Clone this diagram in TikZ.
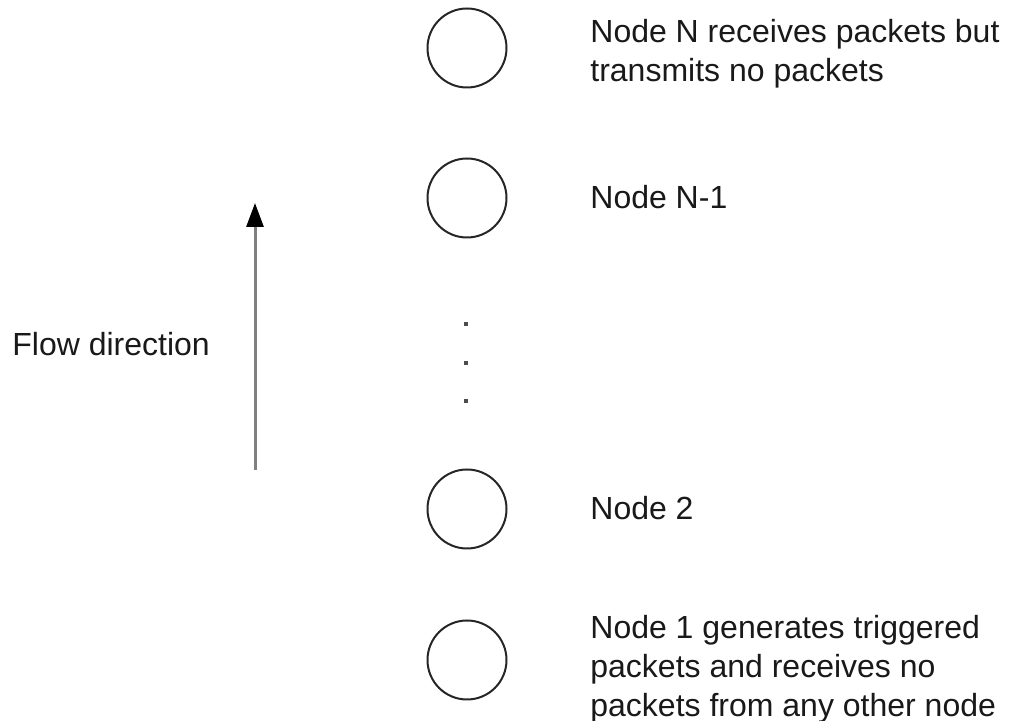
\documentclass[tikz,border=0pt]{standalone}
\usepackage{fontspec}
\setmainfont{Liberation Sans}
\usetikzlibrary{arrows.meta}
\begin{document}
\begin{tikzpicture}[x=0.5pt,y=-0.5pt,
  netnode/.style={circle,draw=black!85,line width=1pt,minimum size=39.5pt,inner sep=0pt},
  label/.style={anchor=base west,align=left,inner sep=0pt,text=black!90,
    font=\fontsize{16}{19.5}\selectfont},
  gap/.style={rectangle,fill=black!70,minimum size=1.6pt,inner sep=0pt},
  flow/.style={draw=black!50,line width=1.5pt,
    -{Triangle[length=12pt,width=8.5pt,color=black]}}]
\useasboundingbox (0,0) rectangle (1009,721);

% stations of the chain, top to bottom
\node[netnode] (nN)  at (467,48)  {};
\node[netnode] (nN1) at (467,198) {};
\node[netnode] (n2)  at (467,509) {};
\node[netnode] (n1)  at (467,660) {};

% elided stations
\node[gap] (d1) at (466,324) {};
\node[gap] (d2) at (466,363) {};
\node[gap] (d3) at (466,401) {};

% descriptions (multi-line ones are placed by their last baseline)
\node[label] (tN)  at (590,82)  {Node N receives packets but\\transmits no packets};
\node[label] (tN1) at (590,209) {Node N-1};
\node[label] (t2)  at (590,520) {Node 2};
\node[label] (t1)  at (590,717) {Node 1 generates triggered\\packets and receives no\\packets from any other node};

% direction of flow
\coordinate (fromA) at (255,470);
\coordinate (toA)   at (255,203);
\draw[flow] (fromA) -- (toA);
\node[label] (tf) at (12,356) {Flow direction};
\end{tikzpicture}
\end{document}
